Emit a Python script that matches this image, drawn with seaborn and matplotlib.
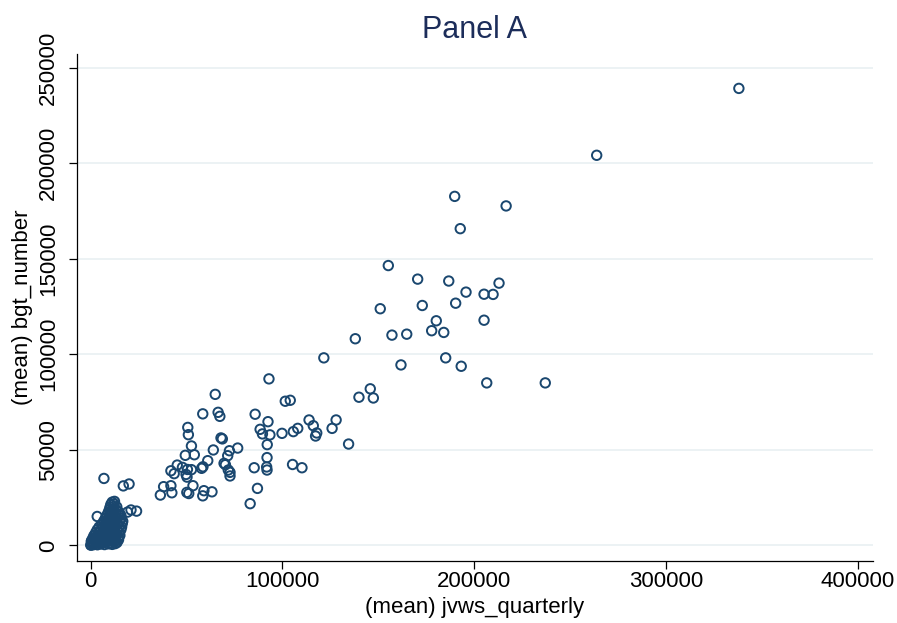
import matplotlib
matplotlib.use("Agg")
import matplotlib.pyplot as plt
import pandas as pd
import seaborn as sns

# Larger areas: mean quarterly vacancies vs. mean posting counts
jvws_upper = [
    337900, 263800, 189800, 216600, 192700, 155200, 170500, 186700, 212900, 195700,
    205100, 209800, 190300, 172900, 151000, 180200, 205100, 177800, 184100, 157100,
    164800, 138000, 121600, 185100, 161800, 193200, 206500, 237000, 93000, 65000,
    145800, 147400, 139900, 104100, 101500, 58500, 66500, 67400, 85800, 92500,
    113900, 128000, 50700, 88400, 89600, 93500, 99800, 105700, 108000, 116100,
    117900, 117300, 125900, 51000, 68000, 68700, 92100, 134500, 52600, 76700,
    72400, 71500, 64000, 49400, 54100, 92000, 61100, 69600, 70300, 105300,
    110200, 85300, 91800, 92000, 58600, 57900, 71800, 72700, 72700, 45200,
    47900, 41900, 43600, 50500, 52600, 49800, 50300, 87000, 38100, 41900,
    42400, 53400, 50200, 51200, 59100, 58500, 63300, 36400, 83200,
    7000, 17100, 20100, 3500, 21100, 24000, 19300,
]
bgt_upper = [
    239100, 204100, 182600, 177600, 165700, 146400, 139300, 138300, 137200, 132500,
    131400, 131300, 126700, 125500, 123800, 117500, 117800, 112300, 111400, 110000,
    110500, 108100, 98100, 98100, 94400, 93700, 85000, 85000, 87100, 79000,
    81900, 77100, 77500, 75900, 75400, 68800, 69600, 67500, 68600, 64700,
    65600, 65600, 61700, 60700, 58300, 57800, 58600, 59500, 61200, 62600,
    58800, 57200, 61200, 57900, 56200, 55700, 52700, 53000, 52000, 50900,
    49500, 46900, 49900, 47100, 47400, 45900, 44300, 42900, 42200, 42300,
    40600, 40600, 41000, 39400, 41100, 40300, 39400, 38200, 36300, 42000,
    40800, 39000, 37500, 39700, 39600, 37100, 35700, 29800, 30700, 31200,
    27500, 31200, 27700, 27100, 28600, 25900, 28000, 26300, 21800,
    35000, 31100, 32100, 15100, 18500, 17900, 17400,
]

# Small areas packed near the origin
jvws_small = [
    300, 1900, 3600, 5400, 7300, 9300, 11300, 12900,
    1000, 2700, 4500, 6300, 8300, 10300, 12300, 13800,
    600, 2000, 3700, 5500, 7400, 9400, 11400, 13300, 14600,
    1200, 2900, 4700, 6600, 8600, 10600, 12600, 14500,
    1800, 3700, 5600, 7600, 9600, 11700, 13700, 15300,
    2700, 4600, 6600, 8600, 10700, 12800, 14800,
    3500, 5500, 7500, 9600, 11700, 13800, 15800,
    4500, 6500, 8600, 10700, 12800, 14900, 16200,
    5900, 7900, 10000, 12100, 14200, 16500,
    6900, 8900, 11000, 13100, 15200, 16800,
    7700, 9700, 11800, 13900, 16000,
    8500, 10500, 12600, 14600, 15800,
    9200, 11200, 13200, 14900,
    9800, 11700, 13500,
    10200, 12000, 13700,
    10600, 12300,
    11300, 12500,
    150, 800, 400, 1400,
]
bgt_small = [
    200, 600, 300, 700, 400, 800, 500, 900,
    1300, 1700, 1200, 1600, 1900, 1400, 1800, 1500,
    2500, 2800, 2400, 2900, 2600, 3000, 2700, 2500, 2900,
    3700, 4000, 3600, 4100, 3800, 3900, 3600, 4200,
    5100, 5400, 5000, 5300, 5600, 5100, 5500, 5200,
    6600, 6900, 6500, 7000, 6700, 6800, 6600,
    8100, 8400, 8000, 8500, 8200, 8300, 8100,
    9600, 9900, 9500, 10000, 9700, 9800, 9600,
    11100, 11400, 11000, 11500, 11200, 11300,
    12600, 12900, 12500, 13000, 12700, 12600,
    14100, 14400, 14000, 14500, 14200,
    15600, 15900, 15500, 16000, 15700,
    17100, 17400, 17000, 17300,
    18600, 18900, 18500,
    20000, 20300, 20100,
    21400, 21700,
    22600, 23000,
    100, 1000, 2000, 300,
]

x_ticks = [0, 100000, 200000, 300000, 400000]
y_ticks = [0, 50000, 100000, 150000, 200000, 250000]

df = pd.DataFrame({
    "jvws_quarterly": jvws_upper + jvws_small,
    "bgt_number": bgt_upper + bgt_small,
})

sns.set_style("ticks")
plt.rcParams["font.family"] = ["Liberation Sans", "DejaVu Sans"]

MARK = "#1a476f"
TITLE = "#1c2d5a"
GRID = "#e9f0f2"

W, H = 897, 623
fig = plt.figure(figsize=(W / 100, H / 100), dpi=100)
L, R, B, T = 76.5, 873, 561, 54
ax = fig.add_axes([L / W, 1 - B / H, (R - L) / W, (B - T) / H])

sns.scatterplot(data=df, x="jvws_quarterly", y="bgt_number", ax=ax,
                marker="o", s=46, legend=False)
for coll in ax.collections:
    coll.set_facecolor("none")
    coll.set_edgecolor(MARK)
    coll.set_linewidth(1.4)

ax.set_xlim(-7300, 407800)
ax.set_ylim(-8200, 257100)
ax.set_xticks(x_ticks)
ax.set_xticklabels([str(v) for v in x_ticks])
ax.set_yticks(y_ticks)
ax.set_yticklabels([str(v) for v in y_ticks])

ax.grid(axis="y", color=GRID, linewidth=1.2)
ax.grid(axis="x", visible=False)
ax.set_axisbelow(True)

for side in ("top", "right"):
    ax.spines[side].set_visible(False)
for side in ("left", "bottom"):
    ax.spines[side].set_color("black")
    ax.spines[side].set_linewidth(0.9)

ax.tick_params(axis="both", direction="out", length=5.5, width=0.9,
               color="black", labelsize=16, labelcolor="black",
               bottom=True, left=True)
ax.tick_params(axis="y", pad=7, labelrotation=90)
ax.tick_params(axis="x", pad=2)
for lab in ax.get_yticklabels():
    lab.set_va("center")

ax.set_xlabel("(mean) jvws_quarterly", fontsize=16, color="black")
ax.set_ylabel("(mean) bgt_number", fontsize=16, color="black")
ax.xaxis.set_label_coords(0.5, (B - 608) / (B - T))
ax.xaxis.label.set_va("center")
ax.yaxis.set_label_coords((22.5 - L) / (R - L), 0.5)
ax.yaxis.label.set_va("center")

fig.text(474.75 / W, 1 - 38 / H, "Panel A", ha="center", va="baseline",
         fontsize=22, color=TITLE)

fig.savefig("out.png", dpi=100, facecolor="white")
